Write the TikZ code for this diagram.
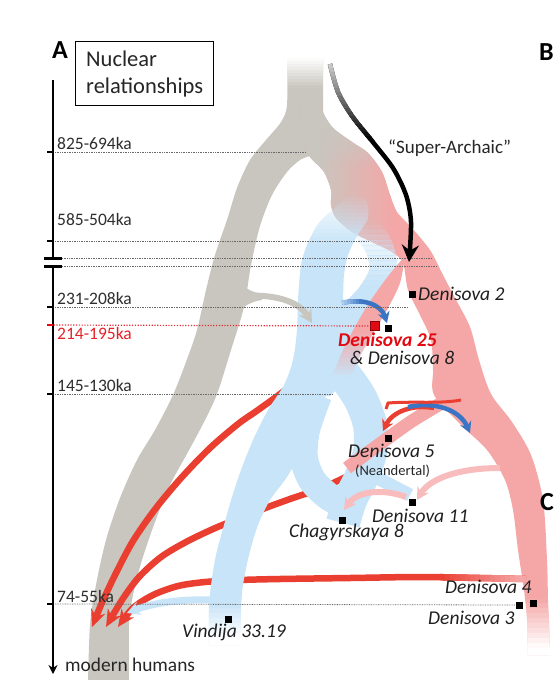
\documentclass[tikz,border=0pt]{standalone}
\usepackage{fontspec}
\setmainfont{Carlito}
\usetikzlibrary{arrows.meta}
\definecolor{grayc}{RGB}{201,198,191}
\definecolor{pinkc}{RGB}{245,166,166}
\definecolor{bluec}{RGB}{200,228,248}
\definecolor{redc}{RGB}{234,62,48}
\definecolor{dblue}{RGB}{58,116,196}
\definecolor{lpink}{RGB}{248,188,188}
\definecolor{dred}{RGB}{226,10,18}
\definecolor{linec}{RGB}{105,105,105}
\definecolor{sagray}{RGB}{205,205,205}

\newcommand\yslabs[4]{%
  \foreach \ii in {1,...,#3}{%
    \pgfmathsetmacro\ya{#1+(#2-#1)*(\ii-1)/#3}%
    \pgfmathsetmacro\yb{#1+(#2-#1)*\ii/#3}%
    \pgfmathsetmacro\slf{(\ii-0.5)/#3}%
    \pgfmathsetmacro\slo{1-\slf}%
    \pgfmathtruncatemacro\pc{round(100*\slf)}%
    \begin{scope}
      \clip (-50,\ya) rectangle (650,\yb);
      #4
    \end{scope}
  }%
}
\newcommand\xslabs[4]{%
  \foreach \ii in {1,...,#3}{%
    \pgfmathsetmacro\xa{#1+(#2-#1)*(\ii-1)/#3}%
    \pgfmathsetmacro\xb{#1+(#2-#1)*\ii/#3}%
    \pgfmathsetmacro\slf{(\ii-0.5)/#3}%
    \pgfmathsetmacro\slo{1-\slf}%
    \pgfmathtruncatemacro\pc{round(100*\slf)}%
    \begin{scope}
      \clip (\xa,-50) rectangle (\xb,750);
      #4
    \end{scope}
  }%
}

% band outlines and centre lines
\def\pG{plot[smooth] coordinates {(287,58) (287,105) (281,122) (266,140) (250,160) (237,188) (227,220) (215,255) (206,290) (197,330) (186,362) (173,395) (155,430) (137,460) (120,498) (106,540) (96,585) (90,625) (88,684)} -- plot[smooth] coordinates {(129,684) (129,625) (133,595) (142,560) (155,522) (170,485) (188,452) (204,422) (217,394) (231,350) (244,307) (251,265) (260,226) (272,195) (287,172) (300,160) (310,156)} -- (320,135) -- (323,112) -- (323,58) -- cycle}
\def\pR{plot[smooth] coordinates {(300,98) (300,125) (304,145) (310,157) (324,172) (331,190) (331,205) (336,218) (352,232) (372,242) (392,252) (403,263) (408,290) (420,315) (431,340) (433,370) (434,395) (460,424) (487,450) (505,480) (513,510) (518,550) (524,590) (527,620) (528,655)} -- plot[smooth] coordinates {(550,655) (549,620) (548,600) (547,560) (543,500) (531,455) (512,422) (491,394) (479,360) (470,327) (455,298) (442,273) (430,250) (412,228) (397,212) (390,195) (382,172) (368,153) (352,142) (333,128) (323,112) (323,98)} -- cycle}
\def\pBm{plot[smooth] coordinates {(352,193) (332,210) (318,224) (307,245) (301,265) (298,300) (297,330) (293,360) (284,385) (268,410) (253,440) (241,470) (232,497) (224,525) (216,555) (211,585) (209,610) (209,645)} -- plot[smooth] coordinates {(241,645) (241,610) (243,585) (249,555) (258,525) (270,500) (287,477) (302,450) (316,420) (328,390) (337,360) (342,330) (343,300) (344,275) (348,255) (357,236) (368,218) (366,200) (352,193)} -- cycle}
\def\pBx{(298,302) -- (350,302) -- (364,318) -- (366,338) -- (356,362) -- (344,382) -- (330,396) -- (300,396) -- cycle}
\def\pBr{plot[smooth] coordinates {(360,220) (379,247) (383,272) (371,295) (352,315) (330,336)}}
\def\pBc{plot[smooth] coordinates {(318,395) (306,430) (304,458) (312,480) (328,496) (346,506)}}
\def\pBd{plot[smooth] coordinates {(318,342) (342,372) (360,398) (370,425) (370,452) (362,476) (350,500) (343,523)}}
\def\pBe{plot[smooth] coordinates {(362,470) (385,482) (410,495)}}
\def\pPa{plot[smooth] coordinates {(405,256) (400,283) (388,308) (374,332) (360,356) (350,378)} -- plot[smooth] coordinates {(333,374) (343,350) (356,325) (371,300) (389,275) (405,256)} -- cycle}
\def\pPb{plot[smooth] coordinates {(463,390) (440,404) (412,421) (388,438) (366,454) (347,468)}}
\def\pRa{plot[smooth] coordinates {(300,378) (280,394) (258,410) (238,424) (210,448) (182,477) (156,508) (133,541) (115,575) (101,605) (92,627)}}
\def\pRb{plot[smooth] coordinates {(352,474) (322,488) (290,499) (260,510) (235,520) (213,529) (186,542) (161,557) (139,577) (122,600) (106,627)}}
\def\pRc{plot[smooth] coordinates {(526,579) (480,578) (420,577) (350,578) (280,579) (240,580) (205,582) (178,586) (153,595) (133,608) (118,627)}}
\def\pSA{plot[smooth] coordinates {(330,64) (338,92) (352,116) (372,141) (393,168) (406,195) (411,222) (409,262)}}

\begin{document}
\begin{tikzpicture}[x=1pt,y=-1pt,
  tl/.style={draw=linec, line width=0.8pt, dash pattern=on 0.8pt off 0.9pt},
  axlab/.style={font=\fontsize{17.5}{20}\selectfont, inner sep=0pt, anchor=base west, text=black!82},
  lab/.style={font=\fontsize{19.5}{22}\selectfont\itshape, inner sep=0pt, anchor=base west, text=black!88},
  sq/.style={fill=black, minimum size=7pt, inner sep=0pt},
  redarrow/.style={draw=redc, line width=6.5pt, -{Stealth[length=17pt,width=15pt]}},
  smallarrow/.style={line width=4.5pt, -{Stealth[length=11pt,width=12pt]}},
  pinkarrow/.style={draw=lpink, line width=6pt, -{Stealth[length=12pt,width=13pt]}},
]
\useasboundingbox (0,0) rectangle (558,680);
\fill[white] (0,0) rectangle (558,680);

% ---- gray lineage (modern humans)
\begin{scope}
  \clip \pG;
  \fill[grayc] (60,40) rectangle (340,690);
  \yslabs{58}{88}{10}{\fill[white, opacity=\slo] (60,\ya) rectangle (340,\yb);}
\end{scope}

% ---- fused branch and Denisovan lineage
\begin{scope}
  \clip \pR;
  \fill[pinkc] (280,90) rectangle (560,690);
  \fill[grayc] (280,90) rectangle (318,300);
  \shade[left color=grayc, right color=pinkc] (318,90) rectangle (396,300);
  \fill[grayc] (280,90) rectangle (460,128);
  \yslabs{128}{168}{10}{\fill[grayc, opacity=\slo] (280,\ya) rectangle (460,\yb);}
  \yslabs{598}{648}{10}{\fill[white, opacity=\slf] (470,\ya) rectangle (560,\yb);}
  \fill[white] (470,648) rectangle (560,690);
\end{scope}

% ---- red gene-flow arrows into modern humans
\draw[redarrow] \pRa;
\draw[redarrow] \pRb;
\draw[redarrow] \pRc;
\xslabs{440}{520}{16}{\draw[draw=pinkc!\pc!redc, line width=6.5pt] \pRc;}
\begin{scope}\clip (520,500) rectangle (560,650); \draw[draw=pinkc, line width=6.5pt] \pRc;\end{scope}

% ---- Neandertal lineage (blue)
\begin{scope}
  \clip \pBm;
  \fill[bluec] (150,245) rectangle (400,690);
  \yslabs{193}{245}{13}{\fill[bluec, opacity=\slf] (150,\ya) rectangle (400,\yb);}
  \yslabs{603}{638}{7}{\fill[white, opacity=\slf] (150,\ya) rectangle (300,\yb);}
  \fill[white] (150,638) rectangle (300,690);
\end{scope}
\fill[bluec] \pBx;
\yslabs{220}{285}{13}{\draw[draw=bluec, line width=28pt, opacity=\slf] \pBr;}
\begin{scope}\clip (0,285) rectangle (560,690); \draw[draw=bluec, line width=28pt] \pBr;\end{scope}
\draw[draw=bluec, line width=28pt] \pBc;
\draw[draw=bluec, line width=34pt] \pBd;
\draw[draw=bluec, line width=13pt] \pBe;

% ---- pink bands over the blue
\begin{scope}
  \clip \pPa;
  \fill[pinkc] (300,240) rectangle (420,330);
  \yslabs{330}{378}{12}{\fill[fill=bluec!\pc!pinkc] (300,\ya) rectangle (420,\yb);}
  \fill[bluec] (300,378) rectangle (420,400);
\end{scope}
\draw[draw=pinkc, line width=13pt] \pPb;

% ---- smaller gene-flow arrows
\coordinate (lb0) at (214,600); \coordinate (lb1) at (127,613);
\draw[draw=bluec, line width=7pt, -{Stealth[length=13pt,width=14pt]}] (lb0) .. controls (185,599) and (155,602) .. (lb1);

\coordinate (ga0) at (243,296); \coordinate (ga1) at (312,323);
\fill[grayc] (240,284) .. controls (248,290) and (255,293) .. (262,294) -- (262,300) .. controls (254,301) and (247,304) .. (240,310) -- cycle;
\draw[draw=grayc, line width=6pt, -{Stealth[length=13pt,width=14pt]}] (ga0) .. controls (272,294) and (298,300) .. (ga1);

\coordinate (bd0) at (342,303); \coordinate (bd1) at (387,323);
\draw[smallarrow, draw=dblue] (bd0) .. controls (362,298) and (381,304) .. (bd1);
\xslabs{338}{362}{8}{\draw[draw=dblue!\pc!bluec, line width=4.5pt] (bd0) .. controls (362,298) and (381,304) .. (bd1);}

\coordinate (r50) at (434,408); \coordinate (r51) at (383,431);
\draw[smallarrow, draw=redc] (r50) .. controls (412,404) and (392,412) .. (r51);
\coordinate (b50) at (408,407); \coordinate (b51) at (470,433);
\draw[smallarrow, draw=dblue] (b50) .. controls (435,401) and (460,410) .. (b51);
\coordinate (h0) at (386,409); \coordinate (h1) at (461,400);
\draw[draw=redc, line width=3pt] (h0) -- (388,403) .. controls (415,401) and (440,404) .. (h1);

\coordinate (p0) at (500,468); \coordinate (p1) at (417,500);
\draw[pinkarrow] (p0) .. controls (460,468) and (430,478) .. (p1);
\coordinate (p2) at (406,497); \coordinate (p3) at (344,510);
\draw[pinkarrow] (p2) .. controls (385,489) and (358,490) .. (p3);

% ---- time lines
\node[sq, fill=dred, draw=dred!60!black, line width=0.6pt, minimum size=9pt] (d25) at (375,326) {};
\node[sq] (d8) at (388,328) {};
\node[sq] (d3) at (519,605) {};
\node[sq] (d4) at (533,603) {};
\coordinate (l1a) at (55,152); \coordinate (l1b) at (305,152);
\coordinate (l2a) at (55,241); \coordinate (l2b) at (368,241);
\coordinate (l3a) at (62,258); \coordinate (l3b) at (432,258);
\coordinate (l4a) at (62,266); \coordinate (l4b) at (437,266);
\coordinate (l5a) at (55,307); \coordinate (l5b) at (407,307);
\coordinate (l6a) at (48,325);
\coordinate (l7a) at (55,394); \coordinate (l7b) at (333,394);
\coordinate (l8a) at (55,604);
\draw[tl] (l1a) -- (l1b);
\draw[tl] (l2a) -- (l2b);
\draw[tl] (l3a) -- (l3b);
\draw[tl] (l4a) -- (l4b);
\draw[tl] (l5a) -- (l5b);
\draw[tl, draw=dred!85, line width=1.2pt, dash pattern=on 1.2pt off 1.6pt] (l6a) -- (d25.west);
\draw[tl] (l7a) -- (l7b);
\draw[tl] (l8a) -- (d3.west);

% ---- super-archaic arrow
\draw[draw=black, line width=4.5pt, -{Stealth[length=17pt,width=17pt]}] \pSA;
\yslabs{64}{140}{19}{\draw[draw=black!\pc!sagray, line width=4.5pt] \pSA;}

% ---- axis
\coordinate (ax0) at (53,80); \coordinate (ax1) at (53,258);
\coordinate (ax2) at (53,266); \coordinate (ax3) at (53,674);
\draw[line width=1.8pt] (ax0) -- (ax1);
\draw[line width=3pt] (44,258) -- (62,258);
\draw[line width=3pt] (44,266) -- (62,266);
\draw[line width=1.8pt, -{Stealth[length=9pt,width=9pt]}] (ax2) -- (ax3);
\foreach \yy in {152,241,307,394,604} \draw[line width=1.4pt] (47,\yy) -- (53,\yy);
\draw[line width=1.4pt, dred] (47,325) -- (53,325);

% ---- labels
\node[axlab] (t825) at (57,149) {825-694ka};
\node[axlab] (t585) at (57,225) {585-504ka};
\node[axlab] (t231) at (57,304) {231-208ka};
\node[axlab, text=dred!90] (t214) at (57,339) {214-195ka};
\node[axlab] (t145) at (57,391) {145-130ka};
\node[axlab] (t74) at (57,602) {74-55ka};
\node[font=\fontsize{19.4}{22}\selectfont, inner sep=0pt, anchor=base west, text=black!85] (mh) at (65,671) {modern humans};

\node[draw, line width=1.4pt, minimum width=138pt, minimum height=64pt, anchor=north west, inner sep=0pt] (box) at (75,41) {};
\node[font=\fontsize{22.5}{26}\selectfont, inner sep=0pt, anchor=base west, text=black!85] (nuc) at (86,66) {Nuclear};
\node[font=\fontsize{22.5}{26}\selectfont, inner sep=0pt, anchor=base west, text=black!85] (rel) at (86,93) {relationships};

\node[font=\fontsize{26}{30}\selectfont\bfseries, inner sep=0pt, anchor=base west] (lA) at (52,58) {A};
\node[font=\fontsize{26}{30}\selectfont\bfseries, inner sep=0pt, anchor=base west] (lB) at (539,60) {B};
\node[font=\fontsize{26}{30}\selectfont\bfseries, inner sep=0pt, anchor=base west] (lC) at (540,510) {C};

\node[font=\fontsize{19}{22}\selectfont, inner sep=0pt, anchor=base west, text=black!85] (sat) at (388,153) {“Super-Archaic”};

\node[sq] (d2) at (412,294) {};
\node[lab] (d2t) at (418,300) {Denisova 2};
\node[lab, font=\fontsize{19.5}{22}\selectfont\bfseries\itshape, text=dred, text depth=0pt] (d25t) at (338,346) {Denisova 25};
\node[lab, text height=12pt] (d8t) at (350,364) {\& Denisova 8};
\node[sq] (d5) at (388,438) {};
\node[lab] (d5t) at (348,457) {Denisova 5};
\node[font=\fontsize{14.5}{17}\selectfont, inner sep=0pt, anchor=base west, text=black!85] (neat) at (355,475) {(Neandertal)};
\node[sq] (d11) at (412,502) {};
\node[lab] (d11t) at (372,522) {Denisova 11};
\node[sq] (ch8) at (342,520) {};
\node[lab] (ch8t) at (289,537) {Chagyrskaya 8};
\node[lab] (d4t) at (445,593) {Denisova 4};
\node[lab] (d3t) at (428,624) {Denisova 3};
\node[sq] (v33) at (228,619) {};
\node[lab] (v33t) at (182,637) {Vindija 33.19};
\end{tikzpicture}
\end{document}
